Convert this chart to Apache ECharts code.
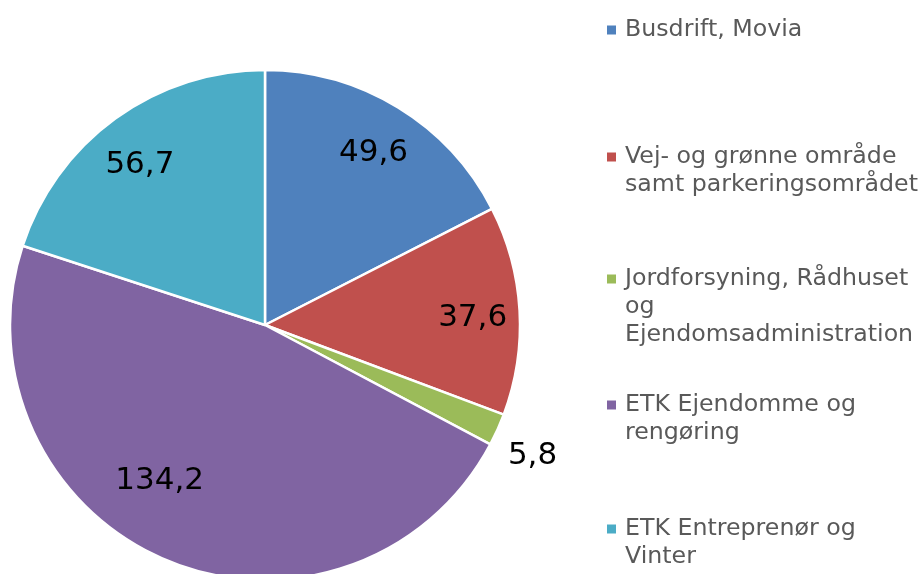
<!DOCTYPE html>
<html>
<head>
<meta charset="utf-8">
<script src="https://cdn.jsdelivr.net/npm/echarts@6/dist/echarts.min.js"></script>
<style>
  html, body { margin: 0; padding: 0; background: #fff; }
  #chart { width: 924px; height: 574px; }
</style>
</head>
<body>
<div id="chart"></div>
<script>
var categories = [
    "Busdrift, Movia",
    "Vej- og grønne område\nsamt parkeringsområdet",
    "Jordforsyning, Rådhuset\nog\nEjendomsadministration",
    "ETK Ejendomme og\nrengøring",
    "ETK Entreprenør og\nVinter"
];
var values = [49.6, 37.6, 5.8, 134.2, 56.7];
var colors = ["#4F81BD", "#C0504D", "#9BBB59", "#8064A2", "#4BACC6"];

// top of each legend entry
var legendTops = [16, 143, 265, 391, 515];
var outsideIdx = 2; // the small slice gets its label outside
// small label nudges (Excel "best fit" placement)
var labelNudge = [[0, 5], [0, 5], [-6, 8], [-24, -35], [-3, 8]];

var myChart = echarts.init(document.getElementById("chart"));

var font = "DejaVu Sans, Verdana, sans-serif";
var lineH = 28;

function fmt(p) {
    return p.value.toFixed(1).replace(".", ",");
}

var pieData = categories.map(function (name, i) {
    return { name: name, value: values[i], itemStyle: { color: colors[i] } };
});

// legend: one component per entry so the marker sits on the first line
var legends = categories.map(function (name, i) {
    return {
        orient: "vertical",
        left: 601,
        top: legendTops[i],
        padding: 0,
        itemWidth: 0,
        itemHeight: 0,
        selectedMode: false,
        data: [name],
        formatter: function (n) {
            var lines = n.split("\n");
            var s = "{m|}{g|}{t|" + lines[0] + "}";
            for (var k = 1; k < lines.length; k++) {
                s += "\n{i|}{t|" + lines[k] + "}";
            }
            return s;
        },
        textStyle: {
            fontFamily: font,
            fontSize: 23.7,
            lineHeight: lineH,
            color: "#595959",
            rich: {
                m: { width: 9, height: 9, backgroundColor: colors[i] },
                g: { width: 9 },
                i: { width: 18 },
                t: { fontFamily: font, fontSize: 23.7, lineHeight: lineH, color: "#595959" }
            }
        }
    };
});

var labelStyle = {
    fontFamily: font,
    fontSize: 31,
    color: "#000"
};

function nudge(params) {
    var d = labelNudge[params.dataIndex];
    return { dx: d[0], dy: d[1] };
}

var option = {
    animation: false,
    legend: legends,
    series: [
        {
            type: "pie",
            center: [265, 325],
            radius: [0, 255],
            startAngle: 90,
            clockwise: true,
            itemStyle: { borderColor: "#fff", borderWidth: 2.5 },
            label: { show: false },
            labelLine: { show: false },
            emphasis: { disabled: true },
            data: pieData
        },
        {
            // label carrier for the inside labels
            type: "pie",
            center: [265, 325],
            radius: [0, 410],
            startAngle: 90,
            silent: true,
            itemStyle: { color: "transparent" },
            label: Object.assign({ show: true, position: "inside", formatter: fmt }, labelStyle),
            labelLine: { show: false },
            labelLayout: nudge,
            emphasis: { disabled: true },
            data: categories.map(function (name, i) {
                return { name: name, value: values[i], label: { show: i !== outsideIdx } };
            })
        },
        {
            // label carrier for the outside label
            type: "pie",
            center: [265, 325],
            radius: [0, 594],
            startAngle: 90,
            silent: true,
            itemStyle: { color: "transparent" },
            label: Object.assign({ show: true, position: "inside", formatter: fmt }, labelStyle),
            labelLine: { show: false },
            labelLayout: nudge,
            emphasis: { disabled: true },
            data: categories.map(function (name, i) {
                return { name: name, value: values[i], label: { show: i === outsideIdx } };
            })
        }
    ]
};

myChart.setOption(option);
</script>
</body>
</html>
